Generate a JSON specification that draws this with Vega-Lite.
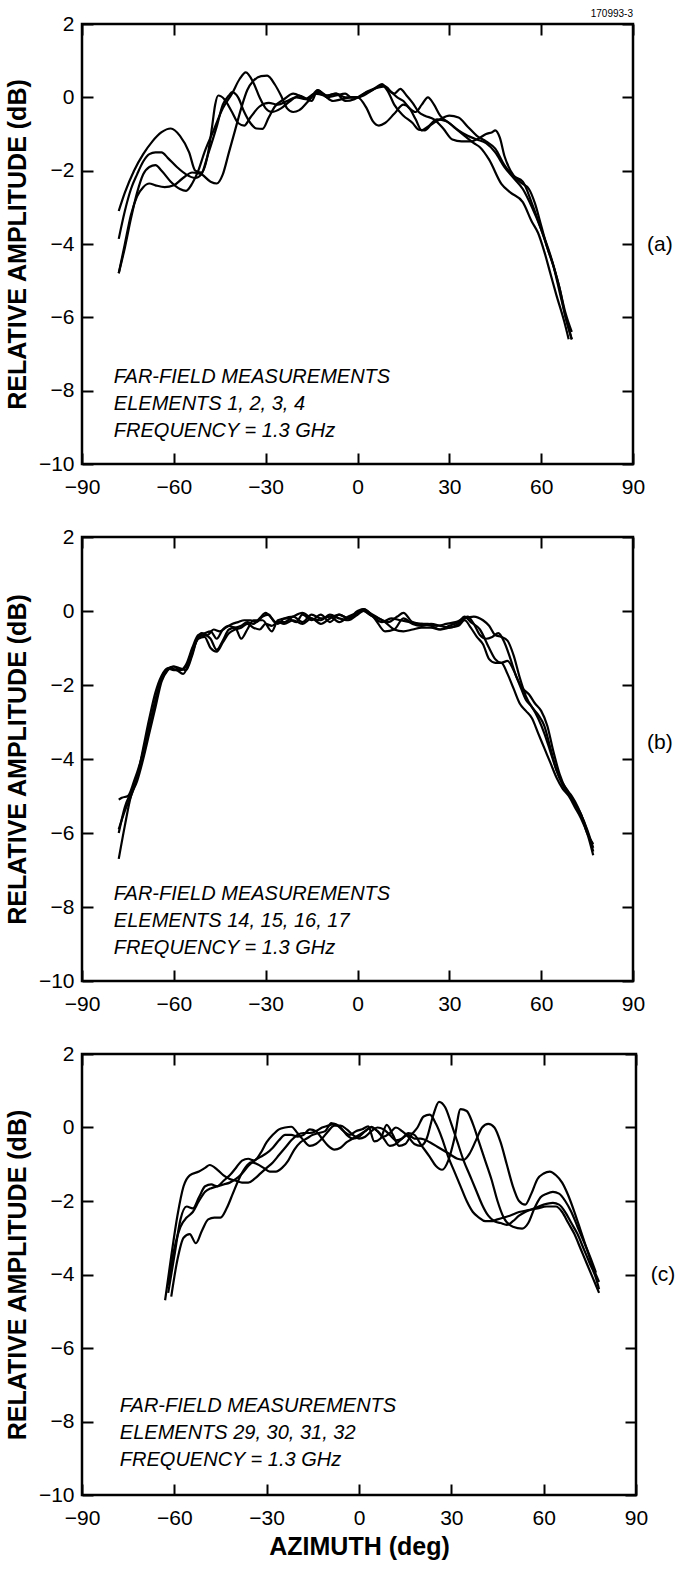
{
"$schema":"https://vega.github.io/schema/vega-lite/v6.json",
"background":"white",
"padding":{"left":4,"top":7,"right":5,"bottom":5},
"config":{
 "font":"Liberation Sans",
 "view":{"stroke":"black","strokeWidth":2.5},
 "axis":{"domain":false,"grid":false,"tickColor":"black","tickWidth":2,"tickSize":-11,"labelFontSize":21,"labelColor":"black","labelFont":"Liberation Sans","labelFlush":false,"labelOverlap":false,"titleFont":"Liberation Sans","titleFontSize":25,"titleFontWeight":"bold","titleColor":"black"}
},
"spacing":73,
"bounds":"flush",
"datasets":{
"a":[
{"s":1,"az":-78,"db":-3.1},{"s":1,"az":-76,"db":-2.6},{"s":1,"az":-73,"db":-2.0},{"s":1,"az":-70,"db":-1.55},{"s":1,"az":-67,"db":-1.2},{"s":1,"az":-64,"db":-0.95},{"s":1,"az":-61,"db":-0.85},{"s":1,"az":-58,"db":-1.05},{"s":1,"az":-55,"db":-1.5},{"s":1,"az":-53,"db":-2.0},{"s":1,"az":-51,"db":-2.05},{"s":1,"az":-49,"db":-1.6},{"s":1,"az":-47.5,"db":-0.8},{"s":1,"az":-46.5,"db":-0.2},{"s":1,"az":-45.5,"db":0.05},{"s":1,"az":-43.5,"db":-0.05},{"s":1,"az":-41,"db":-0.4},{"s":1,"az":-39,"db":-0.7},{"s":1,"az":-37,"db":-0.77},{"s":1,"az":-35,"db":-0.55},{"s":1,"az":-32,"db":-0.25},{"s":1,"az":-29,"db":-0.15},{"s":1,"az":-26,"db":-0.2},{"s":1,"az":-23,"db":-0.1},{"s":1,"az":-20,"db":0.0},{"s":1,"az":-17,"db":-0.05},{"s":1,"az":-14,"db":0.1},{"s":1,"az":-11,"db":0.05},{"s":1,"az":-8,"db":-0.1},{"s":1,"az":-5,"db":-0.05},{"s":1,"az":-2,"db":0.0},{"s":1,"az":0,"db":0.0},{"s":1,"az":3,"db":-0.3},{"s":1,"az":5,"db":-0.65},{"s":1,"az":7,"db":-0.77},{"s":1,"az":9,"db":-0.7},{"s":1,"az":12,"db":-0.45},{"s":1,"az":15,"db":-0.2},{"s":1,"az":17,"db":-0.3},{"s":1,"az":19,"db":-0.6},{"s":1,"az":21,"db":-0.9},{"s":1,"az":23,"db":-0.8},{"s":1,"az":26,"db":-0.6},{"s":1,"az":29,"db":-0.65},{"s":1,"az":32,"db":-0.85},{"s":1,"az":35,"db":-1.05},{"s":1,"az":38,"db":-1.25},{"s":1,"az":40,"db":-1.36},{"s":1,"az":43,"db":-1.7},{"s":1,"az":47,"db":-2.36},{"s":1,"az":50,"db":-2.6},{"s":1,"az":54,"db":-2.86},{"s":1,"az":57,"db":-3.4},{"s":1,"az":59,"db":-3.7},{"s":1,"az":61,"db":-4.2},{"s":1,"az":63,"db":-4.8},{"s":1,"az":65,"db":-5.4},{"s":1,"az":67.5,"db":-6.1},{"s":1,"az":69,"db":-6.6},
{"s":2,"az":-78,"db":-3.86},{"s":2,"az":-76,"db":-3.1},{"s":2,"az":-74,"db":-2.5},{"s":2,"az":-72,"db":-2.1},{"s":2,"az":-70,"db":-1.75},{"s":2,"az":-68,"db":-1.55},{"s":2,"az":-66,"db":-1.5},{"s":2,"az":-64,"db":-1.5},{"s":2,"az":-62,"db":-1.65},{"s":2,"az":-59,"db":-1.9},{"s":2,"az":-56,"db":-2.1},{"s":2,"az":-53,"db":-2.2},{"s":2,"az":-51,"db":-2.1},{"s":2,"az":-49,"db":-1.6},{"s":2,"az":-46,"db":-0.8},{"s":2,"az":-44,"db":-0.2},{"s":2,"az":-42,"db":0.05},{"s":2,"az":-41,"db":0.14},{"s":2,"az":-39,"db":0.0},{"s":2,"az":-37,"db":-0.4},{"s":2,"az":-35,"db":-0.7},{"s":2,"az":-33,"db":-0.85},{"s":2,"az":-31,"db":-0.86},{"s":2,"az":-29,"db":-0.55},{"s":2,"az":-27,"db":-0.25},{"s":2,"az":-24,"db":-0.05},{"s":2,"az":-21,"db":0.1},{"s":2,"az":-18,"db":0.0},{"s":2,"az":-15,"db":-0.1},{"s":2,"az":-13,"db":0.2},{"s":2,"az":-10,"db":0.05},{"s":2,"az":-7,"db":0.1},{"s":2,"az":-4,"db":-0.1},{"s":2,"az":-1,"db":-0.05},{"s":2,"az":0,"db":0.0},{"s":2,"az":2,"db":0.1},{"s":2,"az":5,"db":0.2},{"s":2,"az":8,"db":0.33},{"s":2,"az":10,"db":0.15},{"s":2,"az":12,"db":-0.2},{"s":2,"az":15,"db":-0.5},{"s":2,"az":18,"db":-0.7},{"s":2,"az":20,"db":-0.88},{"s":2,"az":22,"db":-0.9},{"s":2,"az":24,"db":-0.75},{"s":2,"az":27,"db":-0.6},{"s":2,"az":30,"db":-0.5},{"s":2,"az":33,"db":-0.55},{"s":2,"az":36,"db":-0.8},{"s":2,"az":39,"db":-1.05},{"s":2,"az":42,"db":-1.2},{"s":2,"az":45,"db":-1.4},{"s":2,"az":48,"db":-1.85},{"s":2,"az":51,"db":-2.15},{"s":2,"az":54,"db":-2.3},{"s":2,"az":57,"db":-2.9},{"s":2,"az":60,"db":-3.6},{"s":2,"az":62,"db":-4.1},{"s":2,"az":64,"db":-4.6},{"s":2,"az":66,"db":-5.2},{"s":2,"az":68,"db":-6.0},{"s":2,"az":70,"db":-6.6},
{"s":3,"az":-78,"db":-4.8},{"s":3,"az":-76,"db":-4.1},{"s":3,"az":-74,"db":-3.3},{"s":3,"az":-72,"db":-2.6},{"s":3,"az":-70,"db":-2.1},{"s":3,"az":-68,"db":-1.9},{"s":3,"az":-66,"db":-1.85},{"s":3,"az":-64,"db":-2.0},{"s":3,"az":-61,"db":-2.3},{"s":3,"az":-58,"db":-2.5},{"s":3,"az":-56,"db":-2.55},{"s":3,"az":-54,"db":-2.35},{"s":3,"az":-52,"db":-2.0},{"s":3,"az":-50,"db":-1.5},{"s":3,"az":-47,"db":-0.9},{"s":3,"az":-44,"db":-0.3},{"s":3,"az":-41,"db":0.1},{"s":3,"az":-38.5,"db":0.5},{"s":3,"az":-36.5,"db":0.68},{"s":3,"az":-34,"db":0.4},{"s":3,"az":-32,"db":0.0},{"s":3,"az":-30,"db":-0.3},{"s":3,"az":-28,"db":-0.4},{"s":3,"az":-25,"db":-0.3},{"s":3,"az":-22,"db":-0.1},{"s":3,"az":-19,"db":0.05},{"s":3,"az":-16,"db":-0.05},{"s":3,"az":-13,"db":0.2},{"s":3,"az":-10,"db":0.0},{"s":3,"az":-7,"db":0.05},{"s":3,"az":-4,"db":0.1},{"s":3,"az":-2,"db":0.0},{"s":3,"az":0,"db":0.0},{"s":3,"az":3,"db":0.15},{"s":3,"az":6,"db":0.25},{"s":3,"az":9,"db":0.3},{"s":3,"az":11,"db":0.15},{"s":3,"az":13,"db":0.0},{"s":3,"az":15,"db":-0.1},{"s":3,"az":17,"db":-0.3},{"s":3,"az":19,"db":-0.4},{"s":3,"az":21,"db":-0.2},{"s":3,"az":23,"db":0.0},{"s":3,"az":25,"db":-0.2},{"s":3,"az":27,"db":-0.5},{"s":3,"az":30,"db":-0.7},{"s":3,"az":33,"db":-0.9},{"s":3,"az":36,"db":-1.05},{"s":3,"az":39,"db":-1.15},{"s":3,"az":42,"db":-1.25},{"s":3,"az":45,"db":-1.5},{"s":3,"az":48,"db":-1.9},{"s":3,"az":51,"db":-2.2},{"s":3,"az":54,"db":-2.5},{"s":3,"az":57,"db":-3.0},{"s":3,"az":60,"db":-3.6},{"s":3,"az":63,"db":-4.3},{"s":3,"az":66,"db":-5.2},{"s":3,"az":68,"db":-5.9},{"s":3,"az":70,"db":-6.4},
{"s":4,"az":-78,"db":-4.8},{"s":4,"az":-76,"db":-4.0},{"s":4,"az":-74,"db":-3.2},{"s":4,"az":-72,"db":-2.7},{"s":4,"az":-70,"db":-2.45},{"s":4,"az":-68,"db":-2.35},{"s":4,"az":-66,"db":-2.4},{"s":4,"az":-63,"db":-2.45},{"s":4,"az":-60,"db":-2.4},{"s":4,"az":-57,"db":-2.2},{"s":4,"az":-54,"db":-2.05},{"s":4,"az":-51,"db":-2.1},{"s":4,"az":-48,"db":-2.3},{"s":4,"az":-46,"db":-2.35},{"s":4,"az":-44,"db":-2.1},{"s":4,"az":-42,"db":-1.5},{"s":4,"az":-40,"db":-0.9},{"s":4,"az":-38,"db":-0.3},{"s":4,"az":-36,"db":0.2},{"s":4,"az":-34,"db":0.45},{"s":4,"az":-31.5,"db":0.58},{"s":4,"az":-29.5,"db":0.59},{"s":4,"az":-27,"db":0.35},{"s":4,"az":-25,"db":0.05},{"s":4,"az":-23,"db":-0.3},{"s":4,"az":-21,"db":-0.4},{"s":4,"az":-19,"db":-0.35},{"s":4,"az":-16,"db":-0.1},{"s":4,"az":-13,"db":0.15},{"s":4,"az":-10,"db":0.05},{"s":4,"az":-7,"db":0.1},{"s":4,"az":-4,"db":0.0},{"s":4,"az":0,"db":0.0},{"s":4,"az":2,"db":0.05},{"s":4,"az":4,"db":0.15},{"s":4,"az":6.5,"db":0.3},{"s":4,"az":8,"db":0.36},{"s":4,"az":10,"db":0.2},{"s":4,"az":12,"db":0.1},{"s":4,"az":14,"db":0.23},{"s":4,"az":16,"db":0.05},{"s":4,"az":18,"db":-0.15},{"s":4,"az":20,"db":-0.4},{"s":4,"az":22,"db":-0.5},{"s":4,"az":25,"db":-0.6},{"s":4,"az":28,"db":-0.85},{"s":4,"az":31,"db":-1.15},{"s":4,"az":34,"db":-1.2},{"s":4,"az":37,"db":-1.2},{"s":4,"az":40,"db":-1.1},{"s":4,"az":42,"db":-1.0},{"s":4,"az":44,"db":-0.95},{"s":4,"az":45,"db":-0.9},{"s":4,"az":46.5,"db":-1.1},{"s":4,"az":48,"db":-1.6},{"s":4,"az":50,"db":-2.0},{"s":4,"az":53,"db":-2.3},{"s":4,"az":56,"db":-2.5},{"s":4,"az":58,"db":-2.9},{"s":4,"az":60,"db":-3.5},{"s":4,"az":62,"db":-4.1},{"s":4,"az":64,"db":-4.6},{"s":4,"az":66,"db":-5.3},{"s":4,"az":68,"db":-6.0},{"s":4,"az":70,"db":-6.6}
],
"b":[
{"s":1,"az":-78,"db":-6.7},{"s":1,"az":-76,"db":-5.8},{"s":1,"az":-74,"db":-5.0},{"s":1,"az":-72,"db":-4.6},{"s":1,"az":-70,"db":-4.0},{"s":1,"az":-68,"db":-3.3},{"s":1,"az":-66,"db":-2.6},{"s":1,"az":-64,"db":-1.9},{"s":1,"az":-62,"db":-1.6},{"s":1,"az":-60,"db":-1.5},{"s":1,"az":-58,"db":-1.55},{"s":1,"az":-56,"db":-1.6},{"s":1,"az":-54,"db":-1.2},{"s":1,"az":-52,"db":-0.7},{"s":1,"az":-50,"db":-0.65},{"s":1,"az":-48,"db":-0.75},{"s":1,"az":-46,"db":-1.05},{"s":1,"az":-44,"db":-0.8},{"s":1,"az":-42,"db":-0.5},{"s":1,"az":-40,"db":-0.45},{"s":1,"az":-38,"db":-0.75},{"s":1,"az":-36,"db":-0.5},{"s":1,"az":-34,"db":-0.25},{"s":1,"az":-31,"db":-0.25},{"s":1,"az":-28,"db":-0.55},{"s":1,"az":-26,"db":-0.25},{"s":1,"az":-23,"db":-0.2},{"s":1,"az":-20,"db":-0.3},{"s":1,"az":-18,"db":-0.1},{"s":1,"az":-15,"db":-0.25},{"s":1,"az":-12,"db":-0.1},{"s":1,"az":-9,"db":-0.3},{"s":1,"az":-6,"db":-0.1},{"s":1,"az":-3,"db":-0.2},{"s":1,"az":0,"db":-0.05},{"s":1,"az":2,"db":0.05},{"s":1,"az":4,"db":-0.05},{"s":1,"az":6,"db":-0.25},{"s":1,"az":9,"db":-0.55},{"s":1,"az":12,"db":-0.5},{"s":1,"az":15,"db":-0.2},{"s":1,"az":18,"db":-0.35},{"s":1,"az":21,"db":-0.4},{"s":1,"az":24,"db":-0.35},{"s":1,"az":27,"db":-0.4},{"s":1,"az":30,"db":-0.45},{"s":1,"az":33,"db":-0.35},{"s":1,"az":36,"db":-0.15},{"s":1,"az":38,"db":-0.35},{"s":1,"az":40,"db":-0.65},{"s":1,"az":42,"db":-0.75},{"s":1,"az":44,"db":-0.7},{"s":1,"az":46,"db":-0.6},{"s":1,"az":48,"db":-0.85},{"s":1,"az":50,"db":-1.3},{"s":1,"az":52,"db":-1.8},{"s":1,"az":54,"db":-2.1},{"s":1,"az":56,"db":-2.25},{"s":1,"az":58,"db":-2.5},{"s":1,"az":60,"db":-2.7},{"s":1,"az":62,"db":-3.1},{"s":1,"az":64,"db":-3.8},{"s":1,"az":66,"db":-4.4},{"s":1,"az":68,"db":-4.8},{"s":1,"az":70,"db":-5.0},{"s":1,"az":72,"db":-5.3},{"s":1,"az":74,"db":-5.7},{"s":1,"az":76,"db":-6.2},{"s":1,"az":77,"db":-6.5},
{"s":2,"az":-78,"db":-6.0},{"s":2,"az":-76,"db":-5.3},{"s":2,"az":-74,"db":-4.9},{"s":2,"az":-72,"db":-4.5},{"s":2,"az":-70,"db":-3.8},{"s":2,"az":-68,"db":-3.1},{"s":2,"az":-66,"db":-2.4},{"s":2,"az":-64,"db":-1.8},{"s":2,"az":-62,"db":-1.55},{"s":2,"az":-60,"db":-1.5},{"s":2,"az":-58,"db":-1.6},{"s":2,"az":-56,"db":-1.45},{"s":2,"az":-54,"db":-1.0},{"s":2,"az":-52,"db":-0.65},{"s":2,"az":-50,"db":-0.6},{"s":2,"az":-48,"db":-0.55},{"s":2,"az":-46,"db":-0.75},{"s":2,"az":-44,"db":-0.5},{"s":2,"az":-42,"db":-0.4},{"s":2,"az":-40,"db":-0.45},{"s":2,"az":-38,"db":-0.4},{"s":2,"az":-36,"db":-0.3},{"s":2,"az":-34,"db":-0.35},{"s":2,"az":-32,"db":-0.2},{"s":2,"az":-30,"db":-0.05},{"s":2,"az":-28,"db":-0.2},{"s":2,"az":-26,"db":-0.35},{"s":2,"az":-24,"db":-0.2},{"s":2,"az":-21,"db":-0.15},{"s":2,"az":-18,"db":-0.3},{"s":2,"az":-15,"db":-0.1},{"s":2,"az":-12,"db":-0.2},{"s":2,"az":-9,"db":-0.15},{"s":2,"az":-6,"db":-0.3},{"s":2,"az":-3,"db":-0.15},{"s":2,"az":0,"db":-0.05},{"s":2,"az":2,"db":0.0},{"s":2,"az":4,"db":-0.1},{"s":2,"az":7,"db":-0.2},{"s":2,"az":10,"db":-0.3},{"s":2,"az":13,"db":-0.15},{"s":2,"az":15,"db":-0.05},{"s":2,"az":18,"db":-0.3},{"s":2,"az":21,"db":-0.35},{"s":2,"az":24,"db":-0.4},{"s":2,"az":27,"db":-0.5},{"s":2,"az":30,"db":-0.4},{"s":2,"az":33,"db":-0.3},{"s":2,"az":35,"db":-0.15},{"s":2,"az":37,"db":-0.3},{"s":2,"az":40,"db":-0.5},{"s":2,"az":43,"db":-1.0},{"s":2,"az":45,"db":-1.3},{"s":2,"az":47,"db":-1.4},{"s":2,"az":49,"db":-1.35},{"s":2,"az":51,"db":-1.6},{"s":2,"az":53,"db":-2.0},{"s":2,"az":55,"db":-2.4},{"s":2,"az":57,"db":-2.6},{"s":2,"az":59,"db":-2.9},{"s":2,"az":61,"db":-3.3},{"s":2,"az":63,"db":-3.8},{"s":2,"az":65,"db":-4.3},{"s":2,"az":67,"db":-4.65},{"s":2,"az":69,"db":-4.9},{"s":2,"az":71,"db":-5.2},{"s":2,"az":73,"db":-5.5},{"s":2,"az":75,"db":-6.0},{"s":2,"az":77,"db":-6.3},
{"s":3,"az":-78,"db":-5.1},{"s":3,"az":-77,"db":-5.05},{"s":3,"az":-75,"db":-5.0},{"s":3,"az":-73,"db":-4.6},{"s":3,"az":-71,"db":-4.1},{"s":3,"az":-69,"db":-3.5},{"s":3,"az":-67,"db":-2.8},{"s":3,"az":-65,"db":-2.1},{"s":3,"az":-63,"db":-1.7},{"s":3,"az":-61,"db":-1.55},{"s":3,"az":-59,"db":-1.6},{"s":3,"az":-57,"db":-1.7},{"s":3,"az":-55,"db":-1.4},{"s":3,"az":-53,"db":-0.9},{"s":3,"az":-51,"db":-0.6},{"s":3,"az":-49,"db":-0.65},{"s":3,"az":-47,"db":-0.5},{"s":3,"az":-45,"db":-0.55},{"s":3,"az":-43,"db":-0.45},{"s":3,"az":-41,"db":-0.35},{"s":3,"az":-39,"db":-0.3},{"s":3,"az":-37,"db":-0.25},{"s":3,"az":-35,"db":-0.25},{"s":3,"az":-33,"db":-0.3},{"s":3,"az":-31,"db":-0.15},{"s":3,"az":-29,"db":-0.1},{"s":3,"az":-27,"db":-0.3},{"s":3,"az":-24,"db":-0.3},{"s":3,"az":-21,"db":-0.15},{"s":3,"az":-18,"db":-0.05},{"s":3,"az":-15,"db":-0.2},{"s":3,"az":-12,"db":-0.25},{"s":3,"az":-9,"db":-0.1},{"s":3,"az":-6,"db":-0.2},{"s":3,"az":-3,"db":-0.25},{"s":3,"az":0,"db":-0.1},{"s":3,"az":2,"db":0.0},{"s":3,"az":5,"db":-0.15},{"s":3,"az":8,"db":-0.3},{"s":3,"az":11,"db":-0.2},{"s":3,"az":14,"db":-0.25},{"s":3,"az":17,"db":-0.3},{"s":3,"az":20,"db":-0.35},{"s":3,"az":23,"db":-0.35},{"s":3,"az":26,"db":-0.4},{"s":3,"az":29,"db":-0.35},{"s":3,"az":32,"db":-0.3},{"s":3,"az":35,"db":-0.2},{"s":3,"az":38,"db":-0.15},{"s":3,"az":41,"db":-0.25},{"s":3,"az":43,"db":-0.4},{"s":3,"az":45,"db":-0.65},{"s":3,"az":47,"db":-0.7},{"s":3,"az":49,"db":-0.8},{"s":3,"az":51,"db":-1.2},{"s":3,"az":53,"db":-1.8},{"s":3,"az":55,"db":-2.3},{"s":3,"az":57,"db":-2.6},{"s":3,"az":59,"db":-2.8},{"s":3,"az":61,"db":-3.1},{"s":3,"az":63,"db":-3.7},{"s":3,"az":65,"db":-4.3},{"s":3,"az":67,"db":-4.7},{"s":3,"az":69,"db":-4.95},{"s":3,"az":71,"db":-5.2},{"s":3,"az":73,"db":-5.5},{"s":3,"az":75,"db":-5.9},{"s":3,"az":77,"db":-6.4},
{"s":4,"az":-78,"db":-5.9},{"s":4,"az":-76,"db":-5.4},{"s":4,"az":-74,"db":-5.0},{"s":4,"az":-72,"db":-4.5},{"s":4,"az":-70,"db":-3.7},{"s":4,"az":-68,"db":-2.9},{"s":4,"az":-66,"db":-2.2},{"s":4,"az":-64,"db":-1.75},{"s":4,"az":-62,"db":-1.55},{"s":4,"az":-60,"db":-1.6},{"s":4,"az":-58,"db":-1.6},{"s":4,"az":-56,"db":-1.5},{"s":4,"az":-54,"db":-1.05},{"s":4,"az":-52,"db":-0.75},{"s":4,"az":-50,"db":-0.7},{"s":4,"az":-48,"db":-1.0},{"s":4,"az":-46,"db":-1.1},{"s":4,"az":-44,"db":-0.85},{"s":4,"az":-42,"db":-0.6},{"s":4,"az":-40,"db":-0.5},{"s":4,"az":-38,"db":-0.45},{"s":4,"az":-36,"db":-0.35},{"s":4,"az":-34,"db":-0.45},{"s":4,"az":-32,"db":-0.5},{"s":4,"az":-30,"db":-0.35},{"s":4,"az":-28,"db":-0.4},{"s":4,"az":-26,"db":-0.3},{"s":4,"az":-24,"db":-0.35},{"s":4,"az":-21,"db":-0.25},{"s":4,"az":-18,"db":-0.35},{"s":4,"az":-15,"db":-0.2},{"s":4,"az":-12,"db":-0.35},{"s":4,"az":-9,"db":-0.2},{"s":4,"az":-6,"db":-0.1},{"s":4,"az":-3,"db":-0.2},{"s":4,"az":0,"db":0.0},{"s":4,"az":2,"db":0.05},{"s":4,"az":4,"db":-0.05},{"s":4,"az":6,"db":-0.15},{"s":4,"az":9,"db":-0.3},{"s":4,"az":12,"db":-0.5},{"s":4,"az":15,"db":-0.55},{"s":4,"az":18,"db":-0.5},{"s":4,"az":21,"db":-0.45},{"s":4,"az":24,"db":-0.45},{"s":4,"az":27,"db":-0.5},{"s":4,"az":30,"db":-0.45},{"s":4,"az":33,"db":-0.4},{"s":4,"az":35,"db":-0.25},{"s":4,"az":37,"db":-0.45},{"s":4,"az":39,"db":-0.7},{"s":4,"az":41,"db":-0.9},{"s":4,"az":43,"db":-1.3},{"s":4,"az":45,"db":-1.4},{"s":4,"az":47,"db":-1.4},{"s":4,"az":49,"db":-1.7},{"s":4,"az":51,"db":-2.1},{"s":4,"az":53,"db":-2.5},{"s":4,"az":55,"db":-2.7},{"s":4,"az":57,"db":-2.9},{"s":4,"az":59,"db":-3.3},{"s":4,"az":61,"db":-3.7},{"s":4,"az":63,"db":-4.1},{"s":4,"az":65,"db":-4.5},{"s":4,"az":67,"db":-4.8},{"s":4,"az":69,"db":-5.0},{"s":4,"az":71,"db":-5.3},{"s":4,"az":73,"db":-5.6},{"s":4,"az":75,"db":-6.0},{"s":4,"az":77,"db":-6.6}
],
"c":[
{"s":1,"az":-63,"db":-4.7},{"s":1,"az":-61,"db":-3.5},{"s":1,"az":-59,"db":-2.4},{"s":1,"az":-57,"db":-1.6},{"s":1,"az":-55,"db":-1.3},{"s":1,"az":-52,"db":-1.2},{"s":1,"az":-50,"db":-1.1},{"s":1,"az":-48.5,"db":-1.02},{"s":1,"az":-46,"db":-1.15},{"s":1,"az":-44,"db":-1.3},{"s":1,"az":-42,"db":-1.4},{"s":1,"az":-40,"db":-1.45},{"s":1,"az":-38,"db":-1.5},{"s":1,"az":-36,"db":-1.5},{"s":1,"az":-34,"db":-1.4},{"s":1,"az":-32,"db":-1.25},{"s":1,"az":-30,"db":-1.1},{"s":1,"az":-28,"db":-0.95},{"s":1,"az":-26,"db":-0.75},{"s":1,"az":-24,"db":-0.55},{"s":1,"az":-22,"db":-0.35},{"s":1,"az":-20,"db":-0.2},{"s":1,"az":-18,"db":-0.15},{"s":1,"az":-16,"db":-0.15},{"s":1,"az":-14,"db":-0.1},{"s":1,"az":-12,"db":0.0},{"s":1,"az":-10,"db":0.05},{"s":1,"az":-8,"db":0.1},{"s":1,"az":-6,"db":0.0},{"s":1,"az":-4,"db":-0.2},{"s":1,"az":-2,"db":-0.3},{"s":1,"az":0,"db":-0.25},{"s":1,"az":2,"db":-0.1},{"s":1,"az":4,"db":0.0},{"s":1,"az":6,"db":-0.1},{"s":1,"az":8,"db":-0.3},{"s":1,"az":10,"db":-0.5},{"s":1,"az":12,"db":-0.45},{"s":1,"az":14,"db":-0.3},{"s":1,"az":16,"db":-0.2},{"s":1,"az":18,"db":-0.3},{"s":1,"az":20,"db":-0.3},{"s":1,"az":23,"db":-0.4},{"s":1,"az":26,"db":-0.55},{"s":1,"az":29,"db":-0.7},{"s":1,"az":32,"db":-0.85},{"s":1,"az":34,"db":-0.88},{"s":1,"az":36,"db":-0.7},{"s":1,"az":38,"db":-0.35},{"s":1,"az":40,"db":0.0},{"s":1,"az":42,"db":0.1},{"s":1,"az":44,"db":0.0},{"s":1,"az":46,"db":-0.4},{"s":1,"az":48,"db":-1.0},{"s":1,"az":50,"db":-1.6},{"s":1,"az":52,"db":-2.0},{"s":1,"az":54,"db":-2.1},{"s":1,"az":56,"db":-1.8},{"s":1,"az":58,"db":-1.4},{"s":1,"az":60,"db":-1.25},{"s":1,"az":62,"db":-1.2},{"s":1,"az":64,"db":-1.3},{"s":1,"az":66,"db":-1.5},{"s":1,"az":68,"db":-1.85},{"s":1,"az":70,"db":-2.3},{"s":1,"az":72,"db":-2.8},{"s":1,"az":74,"db":-3.3},{"s":1,"az":76,"db":-3.8},{"s":1,"az":78,"db":-4.2},
{"s":2,"az":-62,"db":-4.5},{"s":2,"az":-60,"db":-3.5},{"s":2,"az":-58,"db":-2.5},{"s":2,"az":-56,"db":-2.15},{"s":2,"az":-54,"db":-2.2},{"s":2,"az":-52,"db":-1.9},{"s":2,"az":-50,"db":-1.6},{"s":2,"az":-48,"db":-1.55},{"s":2,"az":-46,"db":-1.6},{"s":2,"az":-44,"db":-1.45},{"s":2,"az":-42,"db":-1.3},{"s":2,"az":-40,"db":-1.1},{"s":2,"az":-38,"db":-0.9},{"s":2,"az":-36,"db":-0.85},{"s":2,"az":-34,"db":-0.9},{"s":2,"az":-32,"db":-0.7},{"s":2,"az":-30,"db":-0.4},{"s":2,"az":-28,"db":-0.2},{"s":2,"az":-26,"db":-0.05},{"s":2,"az":-24,"db":0.0},{"s":2,"az":-22,"db":0.02},{"s":2,"az":-20,"db":-0.15},{"s":2,"az":-18,"db":-0.35},{"s":2,"az":-16,"db":-0.5},{"s":2,"az":-14,"db":-0.45},{"s":2,"az":-12,"db":-0.3},{"s":2,"az":-10,"db":-0.1},{"s":2,"az":-8,"db":0.05},{"s":2,"az":-6,"db":0.05},{"s":2,"az":-4,"db":-0.05},{"s":2,"az":-2,"db":-0.2},{"s":2,"az":0,"db":-0.3},{"s":2,"az":2,"db":-0.25},{"s":2,"az":4,"db":-0.1},{"s":2,"az":6,"db":0.0},{"s":2,"az":8,"db":-0.05},{"s":2,"az":10,"db":-0.2},{"s":2,"az":12,"db":-0.35},{"s":2,"az":14,"db":-0.3},{"s":2,"az":16,"db":-0.15},{"s":2,"az":18,"db":-0.2},{"s":2,"az":20,"db":-0.45},{"s":2,"az":23,"db":-0.8},{"s":2,"az":25,"db":-1.05},{"s":2,"az":27,"db":-1.15},{"s":2,"az":29,"db":-0.9},{"s":2,"az":31,"db":-0.3},{"s":2,"az":33,"db":0.5},{"s":2,"az":35,"db":0.45},{"s":2,"az":37,"db":0.1},{"s":2,"az":39,"db":-0.4},{"s":2,"az":41,"db":-0.9},{"s":2,"az":43,"db":-1.4},{"s":2,"az":45,"db":-2.0},{"s":2,"az":47,"db":-2.45},{"s":2,"az":50,"db":-2.7},{"s":2,"az":53,"db":-2.75},{"s":2,"az":55,"db":-2.6},{"s":2,"az":57,"db":-2.2},{"s":2,"az":59,"db":-1.9},{"s":2,"az":61,"db":-1.8},{"s":2,"az":63,"db":-1.75},{"s":2,"az":65,"db":-1.8},{"s":2,"az":67,"db":-2.0},{"s":2,"az":69,"db":-2.3},{"s":2,"az":71,"db":-2.7},{"s":2,"az":73,"db":-3.1},{"s":2,"az":75,"db":-3.5},{"s":2,"az":77,"db":-3.95},
{"s":3,"az":-62,"db":-4.3},{"s":3,"az":-60,"db":-3.3},{"s":3,"az":-58,"db":-2.7},{"s":3,"az":-56,"db":-2.45},{"s":3,"az":-54,"db":-2.3},{"s":3,"az":-52,"db":-2.0},{"s":3,"az":-50,"db":-1.75},{"s":3,"az":-48,"db":-1.65},{"s":3,"az":-46,"db":-1.6},{"s":3,"az":-44,"db":-1.55},{"s":3,"az":-42,"db":-1.5},{"s":3,"az":-40,"db":-1.4},{"s":3,"az":-38,"db":-1.25},{"s":3,"az":-36,"db":-1.05},{"s":3,"az":-34,"db":-0.9},{"s":3,"az":-32,"db":-0.8},{"s":3,"az":-30,"db":-0.7},{"s":3,"az":-28,"db":-0.55},{"s":3,"az":-26,"db":-0.35},{"s":3,"az":-24,"db":-0.2},{"s":3,"az":-22,"db":-0.2},{"s":3,"az":-20,"db":-0.25},{"s":3,"az":-18,"db":-0.2},{"s":3,"az":-16,"db":-0.05},{"s":3,"az":-14,"db":-0.1},{"s":3,"az":-12,"db":-0.3},{"s":3,"az":-10,"db":-0.5},{"s":3,"az":-8,"db":-0.6},{"s":3,"az":-6,"db":-0.55},{"s":3,"az":-4,"db":-0.4},{"s":3,"az":-2,"db":-0.3},{"s":3,"az":0,"db":-0.2},{"s":3,"az":2,"db":-0.1},{"s":3,"az":4,"db":0.02},{"s":3,"az":6,"db":-0.1},{"s":3,"az":8,"db":-0.25},{"s":3,"az":10,"db":-0.15},{"s":3,"az":12,"db":0.0},{"s":3,"az":14,"db":-0.1},{"s":3,"az":16,"db":-0.25},{"s":3,"az":18,"db":-0.45},{"s":3,"az":20,"db":-0.5},{"s":3,"az":22,"db":-0.3},{"s":3,"az":24,"db":0.3},{"s":3,"az":26,"db":0.7},{"s":3,"az":28,"db":0.55},{"s":3,"az":30,"db":0.1},{"s":3,"az":32,"db":-0.4},{"s":3,"az":34,"db":-0.9},{"s":3,"az":36,"db":-1.3},{"s":3,"az":38,"db":-1.7},{"s":3,"az":40,"db":-2.1},{"s":3,"az":42,"db":-2.4},{"s":3,"az":44,"db":-2.55},{"s":3,"az":46,"db":-2.6},{"s":3,"az":48,"db":-2.65},{"s":3,"az":50,"db":-2.55},{"s":3,"az":52,"db":-2.4},{"s":3,"az":54,"db":-2.3},{"s":3,"az":57,"db":-2.2},{"s":3,"az":60,"db":-2.1},{"s":3,"az":63,"db":-2.05},{"s":3,"az":65,"db":-2.1},{"s":3,"az":67,"db":-2.3},{"s":3,"az":69,"db":-2.6},{"s":3,"az":71,"db":-2.9},{"s":3,"az":73,"db":-3.3},{"s":3,"az":75,"db":-3.7},{"s":3,"az":77,"db":-4.1},{"s":3,"az":78,"db":-4.4},
{"s":4,"az":-61,"db":-4.6},{"s":4,"az":-59,"db":-3.6},{"s":4,"az":-57,"db":-3.0},{"s":4,"az":-55,"db":-2.9},{"s":4,"az":-53,"db":-3.15},{"s":4,"az":-51,"db":-2.8},{"s":4,"az":-49,"db":-2.5},{"s":4,"az":-47,"db":-2.45},{"s":4,"az":-45,"db":-2.45},{"s":4,"az":-43,"db":-2.2},{"s":4,"az":-41,"db":-1.8},{"s":4,"az":-39,"db":-1.4},{"s":4,"az":-37,"db":-1.1},{"s":4,"az":-35,"db":-0.95},{"s":4,"az":-33,"db":-1.0},{"s":4,"az":-31,"db":-1.1},{"s":4,"az":-29,"db":-1.2},{"s":4,"az":-27,"db":-1.2},{"s":4,"az":-25,"db":-1.1},{"s":4,"az":-23,"db":-0.9},{"s":4,"az":-21,"db":-0.6},{"s":4,"az":-19,"db":-0.4},{"s":4,"az":-17,"db":-0.3},{"s":4,"az":-15,"db":-0.2},{"s":4,"az":-13,"db":-0.15},{"s":4,"az":-11,"db":-0.1},{"s":4,"az":-9,"db":0.12},{"s":4,"az":-7,"db":0.05},{"s":4,"az":-5,"db":-0.1},{"s":4,"az":-3,"db":-0.2},{"s":4,"az":-1,"db":-0.1},{"s":4,"az":1,"db":-0.05},{"s":4,"az":3,"db":0.03},{"s":4,"az":5,"db":-0.38},{"s":4,"az":7,"db":-0.3},{"s":4,"az":9,"db":0.07},{"s":4,"az":11,"db":-0.2},{"s":4,"az":13,"db":-0.5},{"s":4,"az":15,"db":-0.45},{"s":4,"az":17,"db":-0.2},{"s":4,"az":19,"db":0.0},{"s":4,"az":21,"db":0.3},{"s":4,"az":23,"db":0.35},{"s":4,"az":25,"db":0.1},{"s":4,"az":27,"db":-0.3},{"s":4,"az":29,"db":-0.8},{"s":4,"az":31,"db":-1.2},{"s":4,"az":33,"db":-1.6},{"s":4,"az":35,"db":-2.0},{"s":4,"az":37,"db":-2.3},{"s":4,"az":39,"db":-2.45},{"s":4,"az":41,"db":-2.55},{"s":4,"az":43,"db":-2.55},{"s":4,"az":45,"db":-2.5},{"s":4,"az":47,"db":-2.45},{"s":4,"az":49,"db":-2.4},{"s":4,"az":52,"db":-2.3},{"s":4,"az":55,"db":-2.25},{"s":4,"az":58,"db":-2.2},{"s":4,"az":61,"db":-2.15},{"s":4,"az":64,"db":-2.15},{"s":4,"az":66,"db":-2.3},{"s":4,"az":68,"db":-2.6},{"s":4,"az":70,"db":-2.9},{"s":4,"az":72,"db":-3.3},{"s":4,"az":74,"db":-3.7},{"s":4,"az":76,"db":-4.1},{"s":4,"az":78,"db":-4.5}
]
},
"vconcat":[
{
 "width":551,"height":440,
 "resolve":{"axis":{"x":"independent","y":"independent"}},
 "layer":[
  {"data":{"name":"a"},
   "mark":{"type":"line","color":"black","strokeWidth":2.2,"interpolate":"monotone","strokeJoin":"round"},
   "encoding":{
    "x":{"field":"az","type":"quantitative","scale":{"domain":[-90,90],"nice":false},"axis":{"orient":"bottom","values":[-90,-60,-30,0,30,60,90],"format":"d","title":null,"labelPadding":23}},
    "y":{"field":"db","type":"quantitative","scale":{"domain":[-10,2],"nice":false},"axis":{"orient":"left","values":[-10,-8,-6,-4,-2,0,2],"format":"d","title":"RELATIVE AMPLITUDE (dB)","titlePadding":8,"labelPadding":19}},
    "detail":{"field":"s"}}},
  {"data":{"values":[{}]},
   "mark":{"type":"text","fontStyle":"italic","fontSize":20,"align":"left","baseline":"middle","lineHeight":27,"color":"black"},
   "encoding":{
    "x":{"datum":-79.6,"type":"quantitative","axis":{"orient":"top","values":[-90,-60,-30,0,30,60,90],"labels":false,"title":null}},
    "y":{"datum":-7.62,"type":"quantitative","axis":{"orient":"right","values":[-10,-8,-6,-4,-2,0,2],"labels":false,"title":null}},
    "text":{"value":["FAR-FIELD MEASUREMENTS","ELEMENTS 1, 2, 3, 4","FREQUENCY = 1.3 GHz"]}}},
  {"data":{"values":[{}]},
   "mark":{"type":"text","fontSize":21,"align":"center","baseline":"middle","color":"black"},
   "encoding":{"x":{"datum":98.8,"type":"quantitative","axis":null},"y":{"datum":-4.03,"type":"quantitative","axis":null},"text":{"value":"(a)"}}},
  {"data":{"values":[{}]},
   "mark":{"type":"text","fontSize":10,"align":"right","baseline":"middle","color":"black"},
   "encoding":{"x":{"datum":90,"type":"quantitative","axis":null},"y":{"datum":2.27,"type":"quantitative","axis":null},"text":{"value":"170993-3"}}}
 ]
},
{
 "width":551,"height":444,
 "resolve":{"axis":{"x":"independent","y":"independent"}},
 "layer":[
  {"data":{"name":"b"},
   "mark":{"type":"line","color":"black","strokeWidth":2.2,"interpolate":"monotone","strokeJoin":"round"},
   "encoding":{
    "x":{"field":"az","type":"quantitative","scale":{"domain":[-90,90],"nice":false},"axis":{"orient":"bottom","values":[-90,-60,-30,0,30,60,90],"format":"d","title":null,"labelPadding":23}},
    "y":{"field":"db","type":"quantitative","scale":{"domain":[-10,2],"nice":false},"axis":{"orient":"left","values":[-10,-8,-6,-4,-2,0,2],"format":"d","title":"RELATIVE AMPLITUDE (dB)","titlePadding":8,"labelPadding":19}},
    "detail":{"field":"s"}}},
  {"data":{"values":[{}]},
   "mark":{"type":"text","fontStyle":"italic","fontSize":20,"align":"left","baseline":"middle","lineHeight":27,"color":"black"},
   "encoding":{
    "x":{"datum":-79.6,"type":"quantitative","axis":{"orient":"top","values":[-90,-60,-30,0,30,60,90],"labels":false,"title":null}},
    "y":{"datum":-7.64,"type":"quantitative","axis":{"orient":"right","values":[-10,-8,-6,-4,-2,0,2],"labels":false,"title":null}},
    "text":{"value":["FAR-FIELD MEASUREMENTS","ELEMENTS 14, 15, 16, 17","FREQUENCY = 1.3 GHz"]}}},
  {"data":{"values":[{}]},
   "mark":{"type":"text","fontSize":21,"align":"center","baseline":"middle","color":"black"},
   "encoding":{"x":{"datum":98.8,"type":"quantitative","axis":null},"y":{"datum":-3.57,"type":"quantitative","axis":null},"text":{"value":"(b)"}}}
 ]
},
{
 "width":554,"height":441,
 "resolve":{"axis":{"x":"independent","y":"independent"}},
 "layer":[
  {"data":{"name":"c"},
   "mark":{"type":"line","color":"black","strokeWidth":2.2,"interpolate":"monotone","strokeJoin":"round"},
   "encoding":{
    "x":{"field":"az","type":"quantitative","scale":{"domain":[-90,90],"nice":false},"axis":{"orient":"bottom","values":[-90,-60,-30,0,30,60,90],"format":"d","title":"AZIMUTH (deg)","titlePadding":6,"labelPadding":23}},
    "y":{"field":"db","type":"quantitative","scale":{"domain":[-10,2],"nice":false},"axis":{"orient":"left","values":[-10,-8,-6,-4,-2,0,2],"format":"d","title":"RELATIVE AMPLITUDE (dB)","titlePadding":8,"labelPadding":19}},
    "detail":{"field":"s"}}},
  {"data":{"values":[{}]},
   "mark":{"type":"text","fontStyle":"italic","fontSize":20,"align":"left","baseline":"middle","lineHeight":27,"color":"black"},
   "encoding":{
    "x":{"datum":-77.7,"type":"quantitative","axis":{"orient":"top","values":[-90,-60,-30,0,30,60,90],"labels":false,"title":null}},
    "y":{"datum":-7.57,"type":"quantitative","axis":{"orient":"right","values":[-10,-8,-6,-4,-2,0,2],"labels":false,"title":null}},
    "text":{"value":["FAR-FIELD MEASUREMENTS","ELEMENTS 29, 30, 31, 32","FREQUENCY = 1.3 GHz"]}}},
  {"data":{"values":[{}]},
   "mark":{"type":"text","fontSize":21,"align":"center","baseline":"middle","color":"black"},
   "encoding":{"x":{"datum":98.8,"type":"quantitative","axis":null},"y":{"datum":-4.0,"type":"quantitative","axis":null},"text":{"value":"(c)"}}}
 ]
}
]
}
